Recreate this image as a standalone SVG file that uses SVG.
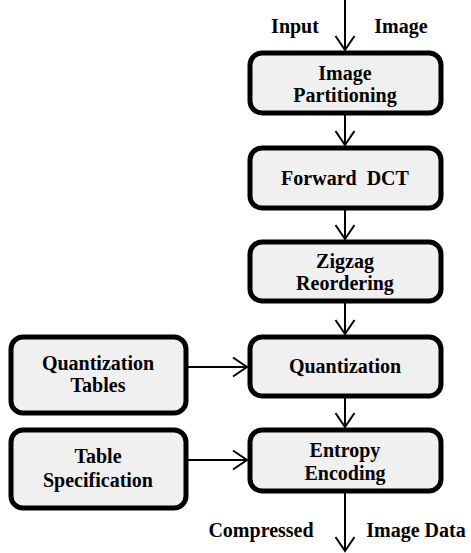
<svg xmlns="http://www.w3.org/2000/svg" width="471" height="553" viewBox="0 0 471 553">
<style>
.box{fill:#f0f0f0;stroke:#000;stroke-width:5}
.c{stroke:#000;stroke-width:2;fill:none}
text{font-family:'Liberation Serif','Times New Roman',serif;font-weight:bold;font-size:20px;fill:#000;text-anchor:middle}
</style>
<defs>
<marker id="ah" markerUnits="userSpaceOnUse" markerWidth="20" markerHeight="22" refX="15" refY="11" orient="auto" viewBox="0 0 20 22">
<path d="M1,1.5 L15,11 L1,20.5" fill="none" stroke="#000" stroke-width="2"/>
</marker>
</defs>
<rect width="471" height="553" fill="#fff"/>
<g id="connectors">
<line class="c" x1="345" y1="0" x2="345" y2="50" marker-end="url(#ah)"/>
<line class="c" x1="345" y1="114" x2="345" y2="145" marker-end="url(#ah)"/>
<line class="c" x1="345" y1="209" x2="345" y2="239" marker-end="url(#ah)"/>
<line class="c" x1="345" y1="302" x2="345" y2="334" marker-end="url(#ah)"/>
<line class="c" x1="345" y1="397" x2="345" y2="427" marker-end="url(#ah)"/>
<line class="c" x1="345" y1="492" x2="345" y2="551" marker-end="url(#ah)"/>
<line class="c" x1="188" y1="367" x2="247" y2="367" marker-end="url(#ah)"/>
<line class="c" x1="188" y1="460" x2="247" y2="460" marker-end="url(#ah)"/>
</g>
<g id="label-input">
<text x="295" y="33">Input</text>
<text x="401" y="33">Image</text>
</g>
<g id="image-partitioning">
<rect class="box" x="250" y="53" width="191" height="60" rx="12"/>
<text x="345" y="80">Image</text>
<text x="345" y="102">Partitioning</text>
</g>
<g id="forward-dct">
<rect class="box" x="250" y="148" width="191" height="60" rx="12"/>
<text x="345" y="185" xml:space="preserve">Forward  DCT</text>
</g>
<g id="zigzag">
<rect class="box" x="250" y="242" width="191" height="59" rx="12"/>
<text x="345" y="268">Zigzag</text>
<text x="345" y="290">Reordering</text>
</g>
<g id="quantization">
<rect class="box" x="250" y="337" width="191" height="59" rx="12"/>
<text x="345" y="373">Quantization</text>
</g>
<g id="entropy-encoding">
<rect class="box" x="250" y="430" width="191" height="61" rx="12"/>
<text x="345" y="457">Entropy</text>
<text x="345" y="480">Encoding</text>
</g>
<g id="quantization-tables">
<rect class="box" x="11" y="337" width="175" height="76" rx="12"/>
<text x="98" y="370">Quantization</text>
<text x="98" y="392">Tables</text>
</g>
<g id="table-specification">
<rect class="box" x="11" y="430" width="175" height="78" rx="12"/>
<text x="98" y="463">Table</text>
<text x="98" y="487">Specification</text>
</g>
<g id="label-output">
<text x="261" y="537">Compressed</text>
<text x="416" y="537">Image Data</text>
</g>
</svg>
